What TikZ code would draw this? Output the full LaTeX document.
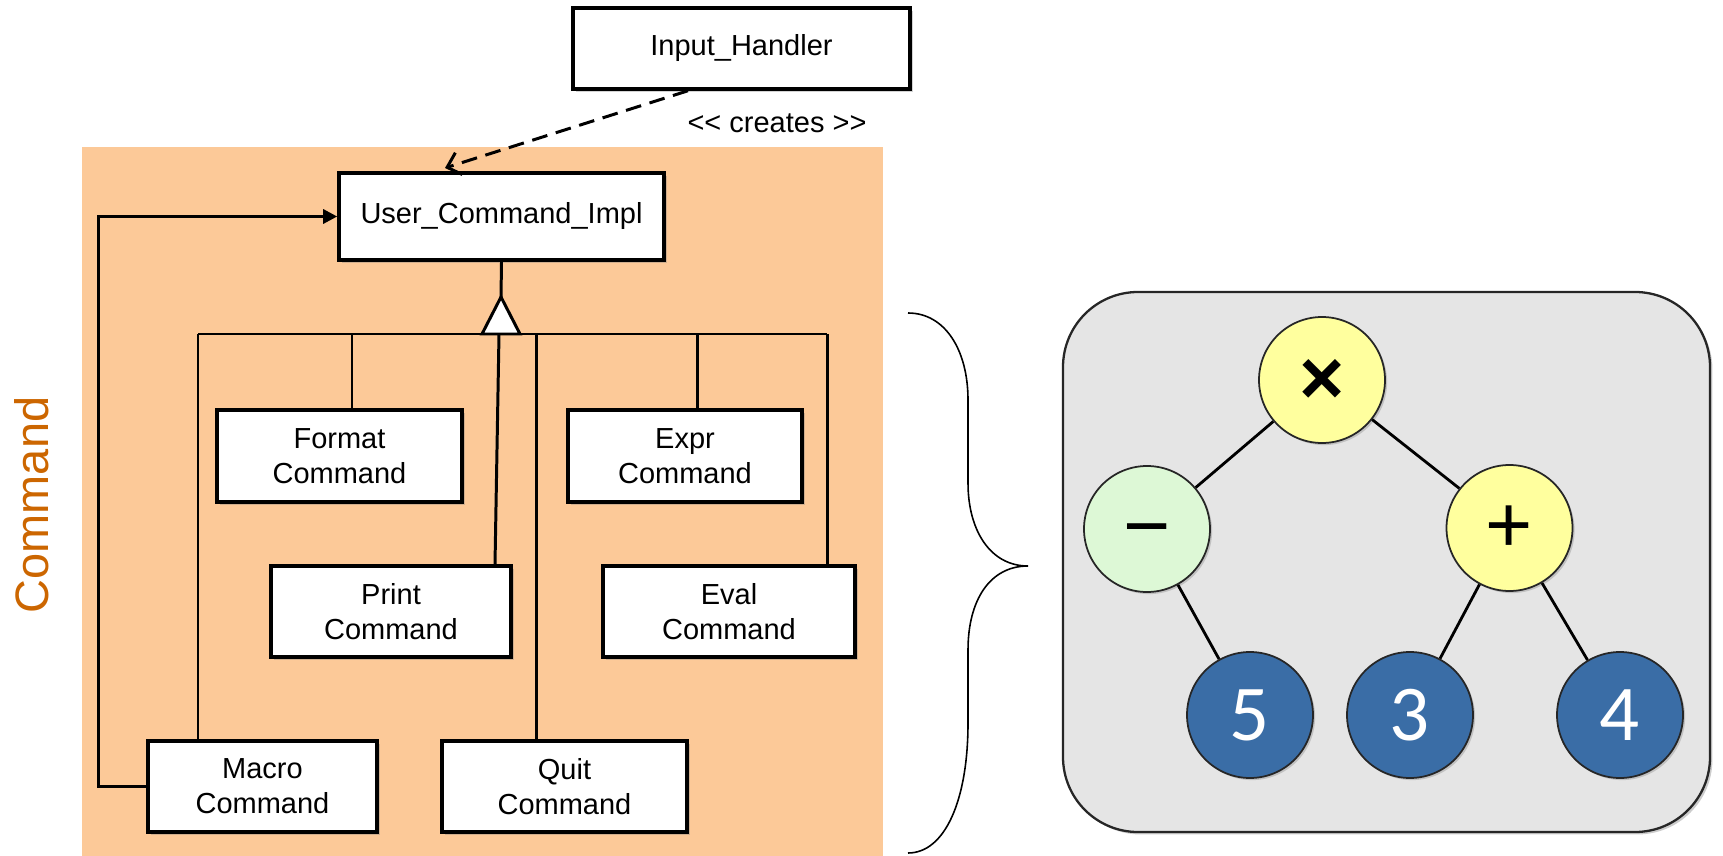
\documentclass[tikz,border=0pt]{standalone}
\usepackage{fontspec}
\setmainfont{Liberation Sans}
\newfontfamily\digitfont{Carlito}
\usetikzlibrary{arrows.meta,shadows}

\definecolor{peach}{HTML}{FCC998}
\definecolor{cmdorange}{HTML}{CC6600}
\definecolor{treegray}{HTML}{E5E5E5}
\definecolor{opyellow}{HTML}{FFFF9E}
\definecolor{opgreen}{HTML}{DDF8D6}
\definecolor{leafblue}{HTML}{3A6DA6}

\tikzset{
  umlbox/.style={draw, line width=2pt, fill=white, align=center, inner sep=0pt,
    font=\fontsize{16.5}{20}\selectfont,
    drop shadow={shadow xshift=1.6pt, shadow yshift=-1.6pt, opacity=0.35}},
  conn/.style={line width=1.7pt},
  tnode/.style={circle, draw=black!85, line width=1pt, minimum size=25.2mm, inner sep=0pt,
    drop shadow={shadow xshift=1.2pt, shadow yshift=-1.2pt, opacity=0.35}},
  opnode/.style={tnode, font=\fontsize{46}{46}\selectfont, text height=27.6pt, text depth=0pt},
  leafnode/.style={tnode, fill=leafblue, text=white, font=\digitfont\fontsize{45}{45}\selectfont},
  tedge/.style={line width=1.6pt}
}

\begin{document}
\begin{tikzpicture}[x=0.2mm, y=-0.2mm]
	\useasboundingbox (0,0) rectangle (1723,856);

	% command pattern side
	\fill[peach] (82,147) rectangle (883,856);
	\node[rotate=90, text=cmdorange, font=\fontsize{26.7}{30}\selectfont] (title) at (32,505) {Command};

	\node[umlbox, minimum width=67.4mm, minimum height=16.2mm] (input) at (741.5,48.5) {Input\_Handler};
	\node[umlbox, minimum width=65mm, minimum height=17.4mm] (uci) at (501.5,216.5) {User\_Command\_Impl};
	\node[umlbox, minimum width=49mm, minimum height=18.4mm] (format) at (339.5,456) {Format\\Command};
	\node[umlbox, minimum width=46.8mm, minimum height=18.4mm] (expr) at (685,456) {Expr\\Command};
	\node[umlbox, minimum width=48mm, minimum height=18.2mm] (print) at (391,611.5) {Print\\Command};
	\node[umlbox, minimum width=50.4mm, minimum height=18.2mm] (eval) at (729,611.5) {Eval\\Command};
	\node[umlbox, minimum width=45.8mm, minimum height=18.2mm] (macro) at (262.5,786.5) {Macro\\Command};
	\node[umlbox, minimum width=49mm, minimum height=18.2mm] (quit) at (564.5,786.5) {Quit\\Command};

	\node[font=\fontsize{16.5}{20}\selectfont] (creates) at (777,123) {<{}< creates >{}>};
	\coordinate (dashend) at (445,168);
	\draw[conn, dash pattern=on 9pt off 5pt, -{Straight Barb[length=7pt,width=13pt]}] (input.south -| 688,0) -- (dashend);

	% inheritance bar
	\coordinate (apex) at (501,297);
	\draw[conn] (198,334) -- (827,334);
	\draw[conn] (198,334) -- (198,0 |- macro.north);
	\draw[conn] (352,334) -- (352,0 |- format.north);
	\draw[conn] (499,334) -- (print.north -| 495,0);
	\draw[conn] (536,334) -- (536,0 |- quit.north);
	\draw[conn] (697,334) -- (697,0 |- expr.north);
	\draw[conn] (827,334) -- (827,0 |- eval.north);
	\draw[conn] (uci.south) -- (apex);
	\draw[conn, fill=white, line join=miter] (apex) -- (482,334) -- (520,334) -- cycle;
	\draw[conn, -{Triangle[length=8pt,width=8pt]}] (macro.west) -- ++(-48,0) |- (uci.west);

	% brace
	\draw[line width=0.9pt] (908,313) .. controls (945,313) and (968,350) .. (968,400) -- (968,483)
		.. controls (968,530) and (990,566) .. (1028,566)
		.. controls (990,566) and (968,600) .. (968,650) -- (968,723)
		.. controls (968,800) and (945,853) .. (908,853);

	% expression tree
	\draw[fill=treegray, draw=black!85, line width=1.3pt, rounded corners=15mm,
		drop shadow={shadow xshift=1.4pt, shadow yshift=-1.4pt, opacity=0.4}] (1063,292) rectangle (1710,832);
	\node[opnode, fill=opyellow, font=\fontsize{44}{44}\selectfont\bfseries] (times) at (1322,380) {×};
	\node[opnode, fill=opgreen] (minus) at (1147,529) {−};
	\node[opnode, fill=opyellow] (plus) at (1509.5,528) {+};
	\node[leafnode] (five) at (1250,715) {5};
	\node[leafnode] (three) at (1410,715) {3};
	\node[leafnode] (four) at (1620,715) {4};
	\draw[tedge] (times) -- (minus);
	\draw[tedge] (times) -- (plus);
	\draw[tedge] (minus) -- (five);
	\draw[tedge] (plus) -- (three);
	\draw[tedge] (plus) -- (four);
\end{tikzpicture}
\end{document}
